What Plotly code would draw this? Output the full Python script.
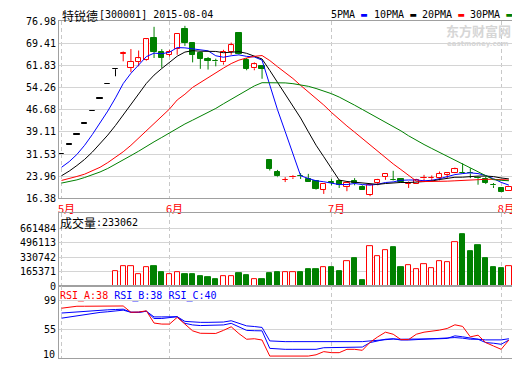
import plotly.graph_objects as go

# ---------------- data ----------------
month_ticks = [0, 14, 35, 57]
month_labels = ["5月", "6月", "7月", "8月"]

open_ = [31.53, 34.68, 38.15, 41.9, 46.1, 50.5, 55.5, 60.5, 65.8, 60.96,
         63.09, 63.53, 71.28, 66.56, 65.35, 67.37, 74.22, 69.39, 65.89, 64.1,
         63.25, 62.85, 66.46, 72.87, 63.76, 60.83, 61.74, 29.37, 25.56, 22.65,
         23.55, 24.1, 22.86, 22.39, 19.36, 21.9, 22.18, 20.36, 22.39, 20.26,
         17.67, 21.71, 23.63, 22.6, 22.86, 21.3, 21.38, 23.2, 23.25, 23.3,
         24.5, 24.98, 25.05, 25.0, 23.5, 23.06, 20.9, 19.93, 19.02]
high = [31.53, 34.68, 38.15, 41.9, 46.1, 50.5, 55.5, 60.5, 66.56, 67.4,
        66.9, 70.9, 74.99, 67.37, 67.14, 72.77, 75.33, 69.4, 66.56, 64.67,
        64.1, 67.14, 69.6, 72.9, 64.34, 62.85, 61.8, 29.4, 26.1, 23.63,
        24.3, 25.0, 24.75, 22.4, 21.3, 23.06, 22.72, 22.18, 23.3, 20.84,
        20.9, 23.06, 24.8, 25.8, 23.0, 22.18, 23.06, 24.41, 24.2, 25.56,
        25.0, 26.9, 28.36, 26.67, 23.87, 23.87, 21.61, 20.0, 20.2]
low = [31.53, 34.68, 38.15, 41.9, 46.1, 50.5, 55.5, 58.1, 63.2, 59.5,
       61.5, 63.3, 64.34, 60.96, 64.87, 65.45, 68.48, 62.85, 60.63, 60.39,
       61.5, 62.08, 65.45, 65.45, 60.15, 60.15, 57.25, 25.9, 23.63, 21.95,
       23.0, 23.0, 21.8, 19.36, 17.9, 20.84, 19.93, 18.82, 20.84, 19.3,
       17.13, 20.84, 22.72, 22.4, 21.9, 19.93, 21.3, 22.18, 22.2, 22.52,
       23.3, 24.9, 24.8, 23.3, 21.04, 21.27, 19.93, 18.5, 19.0]
close = [31.53, 34.68, 38.15, 41.9, 46.1, 50.5, 55.5, 60.5, 65.95, 62.98,
         64.2, 70.74, 66.56, 64.34, 66.22, 72.53, 69.6, 65.35, 64.0, 63.32,
         63.15, 66.36, 68.72, 65.62, 60.63, 62.18, 60.63, 26.4, 23.87, 22.75,
         23.65, 23.95, 21.85, 19.59, 21.27, 21.8, 21.04, 21.71, 21.51, 19.36,
         20.84, 22.62, 24.75, 22.5, 22.05, 21.4, 22.62, 23.35, 23.35, 24.75,
         24.9, 26.33, 24.95, 24.9, 23.3, 21.61, 20.8, 18.58, 20.16]
volume = [2100, 1800, 1500, 1900, 2600, 3100, 4500, 167000, 228000, 228000,
          138000, 220000, 224000, 164000, 138000, 160000, 141000, 141000, 119000, 107000,
          85000, 119000, 119000, 153000, 122000, 77000, 81000, 153000, 164000, 164000,
          164000, 164000, 198000, 198000, 220000, 220000, 175000, 285000, 322000, 73000,
          454000, 341000, 409000, 443000, 220000, 240000, 194000, 251000, 206000, 285000,
          273000, 511000, 593000, 401000, 469000, 325000, 220000, 209000, 233062]

ma5 = [26.98, 28.93, 31.39, 34.53, 38.2, 42.0, 46.2, 50.7, 55.6, 59.1,
       61.8, 64.8, 66.0, 65.8, 66.3, 67.9, 67.8, 67.5, 67.3, 66.8,
       65.1, 64.6, 65.1, 65.4, 64.9, 64.7, 63.6, 55.1, 46.7, 39.2,
       31.5, 24.1, 23.2, 22.4, 22.06, 21.7, 21.1, 21.1, 21.47, 21.1,
       20.9, 21.2, 21.8, 22.0, 22.55, 22.66, 22.66, 22.4, 22.55, 23.1,
       23.8, 24.5, 24.85, 25.1, 24.85, 24.2, 23.1, 21.85, 20.9]
ma10 = [24.1, 25.7, 27.6, 29.7, 32.2, 35.0, 38.0, 41.3, 45.0, 48.78,
        52.05, 55.65, 58.49, 60.74, 62.75, 64.95, 66.36, 66.85, 66.65, 66.69,
        66.58, 66.14, 66.36, 66.49, 65.93, 64.89, 64.0, 60.1, 56.09, 52.03,
        48.08, 43.84, 39.15, 34.55, 30.61, 26.58, 22.62, 22.15, 21.91, 21.57,
        21.29, 21.16, 21.45, 21.74, 21.82, 21.78, 21.94, 22.1, 22.28, 22.82,
        23.23, 23.6, 23.62, 23.86, 23.99, 24.01, 23.82, 23.35, 23.03]
ma20 = [22.5, 23.06, 23.87, 24.65, 25.76, 27.0, 28.6, 30.38, 32.3, 34.5,
        37.0, 39.6, 42.2, 44.6, 46.9, 50.0, 51.96, 54.3, 56.0, 57.73,
        59.31, 60.9, 62.43, 63.61, 64.34, 64.92, 65.18, 63.47, 61.37, 59.36,
        57.33, 54.99, 52.76, 50.52, 48.27, 45.73, 43.31, 41.12, 39.0, 36.8,
        34.69, 32.5, 30.3, 28.15, 26.22, 24.18, 22.28, 22.12, 22.1, 22.2,
        22.26, 22.38, 22.53, 22.8, 22.9, 22.89, 22.88, 22.72, 22.66]
ma30 = [21.6, 22.1, 22.7, 23.5, 24.4, 25.4, 26.6, 28.0, 29.5, 31.0,
        32.5, 34.2, 35.7, 37.2, 38.7, 40.4, 41.8, 43.1, 44.4, 45.8,
        47.1, 48.7, 50.2, 51.9, 53.4, 54.8, 55.9, 55.95, 55.9, 55.83,
        55.57, 55.21, 54.67, 53.92, 53.1, 52.14, 50.99, 49.7, 48.22, 46.76,
        45.32, 43.71, 42.32, 40.93, 39.45, 37.75, 36.18, 34.78, 33.43, 32.14,
        30.87, 29.53, 28.07, 26.72, 25.47, 24.12, 22.79, 22.53, 22.41]

rsi_a = [87.5, 89.0, 90.6, 90.6, 90.8, 90.8, 90.8, 90.8, 91.0, 81.2,
         81.5, 83.5, 64.4, 62.8, 62.8, 73.3, 63.0, 52.3, 48.5, 48.2,
         48.2, 53.0, 58.6, 48.0, 39.2, 40.0, 38.0, 13.0, 13.0, 13.0,
         13.0, 13.0, 13.0, 15.0, 19.9, 18.3, 18.3, 23.5, 23.5, 22.0,
         34.5, 42.9, 50.2, 47.0, 38.7, 38.7, 47.0, 50.2, 51.3, 53.4,
         56.0, 61.7, 59.2, 42.9, 45.5, 34.0, 28.7, 23.5, 38.0]
rsi_b = [80.0, 81.0, 82.0, 83.0, 84.0, 84.5, 85.0, 85.5, 86.0, 81.2,
         81.2, 82.8, 71.5, 71.5, 72.5, 74.3, 64.0, 61.5, 60.5, 60.5,
         60.5, 61.5, 64.0, 58.0, 53.0, 52.5, 52.3, 25.0, 24.0, 23.5,
         23.5, 23.5, 23.5, 23.5, 26.0, 26.0, 26.0, 26.0, 26.0, 27.0,
         34.0, 36.6, 39.2, 40.0, 38.0, 38.0, 38.5, 39.0, 39.5, 40.0,
         40.5, 41.8, 40.9, 39.2, 39.2, 34.0, 33.0, 31.4, 38.0]
rsi_c = [72.0, 74.0, 76.0, 78.0, 79.5, 81.0, 82.0, 83.5, 84.5, 81.2,
         81.2, 82.8, 74.0, 74.0, 74.0, 74.3, 67.0, 66.0, 65.5, 65.5,
         65.5, 66.0, 68.0, 64.0, 60.0, 59.0, 57.6, 36.6, 35.5, 35.5,
         35.5, 35.5, 35.5, 34.5, 34.5, 34.5, 34.5, 34.5, 34.5, 35.5,
         36.6, 37.9, 39.2, 39.5, 39.2, 39.2, 39.2, 39.5, 39.5, 40.0,
         40.5, 44.5, 43.0, 40.9, 39.2, 38.2, 38.2, 38.2, 40.0]

price_ticks = [16.38, 23.96, 31.53, 39.11, 46.68, 54.26, 61.83, 69.41, 76.98]
vol_ticks = [0, 165371, 330742, 496113, 661484]
rsi_ticks = [10, 55, 99]

title_name = "特锐德"
title_code = "[300001] 2015-08-04"
vol_title = "成交量"
last_volume = "233062"

# ---------------- styling ----------------
RED, GREEN, BLUE, BLACK = "#FF0000", "#008000", "#0000FF", "#000000"
GRID, BORDER, DASHGRID = "#D4D4D4", "#A0A0A0", "#C8C8C8"
MONO = "DejaVu Sans Mono"
CJK = "Noto Sans CJK SC"

n = len(close)
idx = list(range(n))

body_fill, body_line, vol_fill, vol_line = [], [], [], []
for o, c in zip(open_, close):
    if c > o:
        body_fill.append("white"); body_line.append(RED)
        vol_fill.append("white"); vol_line.append(RED)
    elif c < o:
        body_fill.append(GREEN); body_line.append(GREEN)
        vol_fill.append(GREEN); vol_line.append(GREEN)
    else:
        body_fill.append(BLACK); body_line.append(BLACK)
        vol_fill.append("white"); vol_line.append(RED)

body_base = [min(o, c) for o, c in zip(open_, close)]
body_h = [max(abs(c - o), 0.12) for o, c in zip(open_, close)]

fig = go.Figure()

# wicks, grouped by colour
for col, test in ((RED, lambda o, c: c > o), (GREEN, lambda o, c: c < o), (BLACK, lambda o, c: c == o)):
    xs, ys = [], []
    for i in idx:
        o, c = open_[i], close[i]
        if not test(o, c):
            continue
        lo_b, hi_b = min(o, c), max(o, c)
        if low[i] < lo_b:
            xs += [i, i, None]; ys += [low[i], lo_b, None]
        if high[i] > hi_b:
            xs += [i, i, None]; ys += [hi_b, high[i], None]
    fig.add_trace(go.Scatter(x=xs, y=ys, mode="lines", line=dict(color=col, width=1),
                             hoverinfo="skip", showlegend=False, xaxis="x", yaxis="y"))

# candle bodies
fig.add_trace(go.Bar(x=idx, y=body_h, base=body_base, width=0.68,
                     marker=dict(color=body_fill, line=dict(color=body_line, width=1)),
                     showlegend=False, xaxis="x", yaxis="y"))

# moving averages
for vals, col, name in ((ma5, BLUE, "5PMA"), (ma10, BLACK, "10PMA"),
                        (ma20, RED, "20PMA"), (ma30, GREEN, "30PMA")):
    fig.add_trace(go.Scatter(x=idx, y=vals, mode="lines", name=name,
                             line=dict(color=col, width=1), showlegend=False,
                             xaxis="x", yaxis="y"))

# volume
fig.add_trace(go.Bar(x=idx, y=volume, width=0.68,
                     marker=dict(color=vol_fill, line=dict(color=vol_line, width=1)),
                     showlegend=False, xaxis="x2", yaxis="y2"))

# RSI
for vals, col in ((rsi_c, BLUE), (rsi_b, BLUE), (rsi_a, RED)):
    fig.add_trace(go.Scatter(x=idx, y=vals, mode="lines", line=dict(color=col, width=1),
                             showlegend=False, xaxis="x3", yaxis="y3"))

# ---------------- layout ----------------
# The page body has an 8px margin, so the figure is made 8px smaller and
# every page position below is expressed in page pixels.
OFF = 8
PAGE_W, PAGE_H = 520, 365
L, R, T, B = 59 - OFF, 1, 21 - OFF, 2
W, H = PAGE_W - OFF, PAGE_H - OFF
ph = H - T - B
pw = W - L - R


def py(Y):  # page y -> paper fraction
    return (PAGE_H - B - Y) / ph


def px(X):  # page x -> paper fraction
    return (X - (L + OFF)) / pw


xr = [-0.323, 59.18]
xcommon = dict(range=xr, tickvals=month_ticks, showgrid=True, gridcolor=DASHGRID,
               griddash="4px,3px", gridwidth=1, zeroline=False, showline=True,
               linecolor=BORDER, linewidth=1, mirror=True, ticks="", fixedrange=True)
ycommon = dict(showgrid=True, gridcolor=GRID, gridwidth=1, zeroline=False, showline=True,
               linecolor=BORDER, linewidth=1, mirror=True, ticks="",
               tickfont=dict(family=MONO, size=10, color=BLACK), fixedrange=True)

fig.update_layout(
    width=W, height=H, margin=dict(l=L, r=R, t=T, b=B, pad=0),
    paper_bgcolor="white", plot_bgcolor="white",
    barmode="overlay", bargap=0, bargroupgap=0,
    xaxis=dict(xcommon, anchor="y", ticktext=month_labels, showticklabels=True,
               tickfont=dict(family=CJK, size=11, color=RED), ticklabelshift=5,
               ticklabelstandoff=0),
    yaxis=dict(ycommon, domain=[py(201), 1], range=[price_ticks[0], price_ticks[-1]],
               tickvals=price_ticks, ticktext=["%.2f" % v for v in price_ticks]),
    xaxis2=dict(xcommon, anchor="y2", matches="x", showticklabels=False),
    yaxis2=dict(ycommon, domain=[py(290), py(216)], range=[0, 839600],
                tickvals=vol_ticks, ticktext=[str(v) for v in vol_ticks]),
    xaxis3=dict(xcommon, anchor="y3", matches="x", showticklabels=False),
    yaxis3=dict(ycommon, domain=[0, py(290)], range=[rsi_ticks[0], 122.0],
                tickvals=rsi_ticks[1:], ticktext=[str(v) for v in rsi_ticks[1:]]),
    showlegend=False,
)


def label(X, Y, text, family=MONO, size=10, color=BLACK, xanchor="left"):
    return dict(x=px(X), y=py(Y), xref="paper", yref="paper", xanchor=xanchor,
                yanchor="middle", showarrow=False, borderpad=0,
                font=dict(family=family, size=size, color=color), text=text)


ann = [
    label(61, 15, title_name, family=CJK, size=12),
    label(98, 14, title_code),
]
for X, name, col in ((331, "5PMA", BLUE), (374, "10PMA", BLACK), (422, "20PMA", RED), (470, "30PMA", GREEN)):
    ann.append(label(X, 14.3, '%s <span style="color:%s">▬</span>' % (name, col)))
ann.append(label(479, 30.5, "<b>东方财富网</b>", family=CJK, size=13, color="#D6D6D6", xanchor="center"))
ann.append(label(479, 44, "<b>eastmoney.com</b>", family="DejaVu Sans", size=7, color="#D6D6D6",
                 xanchor="center"))
ann.append(label(59, 225.7, vol_title, family=CJK, size=12))
ann.append(label(95, 225.7, ":" + last_volume))
ann.append(label(59.5, 300,
                 '<span style="color:%s">RSI_A:%d</span> <span style="color:%s">RSI_B:%d</span> '
                 '<span style="color:%s">RSI_C:%d</span>' % (RED, round(rsi_a[-1]), BLUE, round(rsi_b[-1]),
                                                            BLUE, round(rsi_c[-1]))))
# lowest RSI axis label, lifted to stay inside the page as in the original
ann.append(label(56, 359.5, str(rsi_ticks[0]), xanchor="right"))
fig.update_layout(annotations=ann)

fig.write_html("out.html")
